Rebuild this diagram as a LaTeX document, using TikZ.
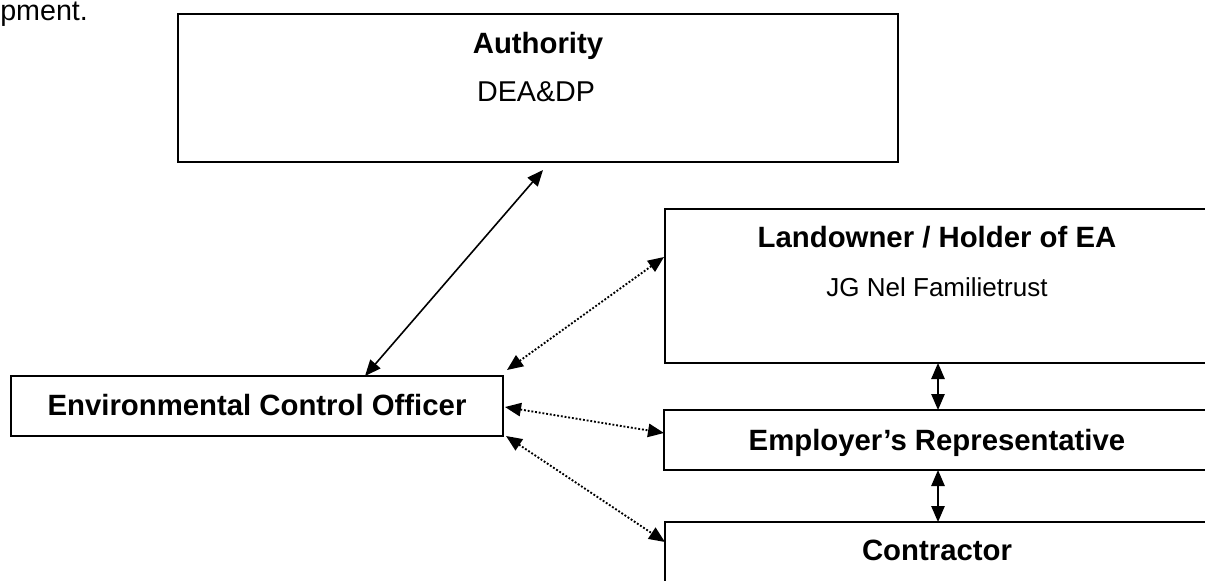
\documentclass[tikz,border=0pt]{standalone}
\usepackage{fontspec}
\setmainfont{Liberation Sans}
\usetikzlibrary{arrows.meta,calc}
\begin{document}
\begin{tikzpicture}[x=0.75pt,y=-0.75pt,
  box/.style={draw,line width=1.5pt,inner sep=0pt,outer sep=0pt},
  ttl/.style={font=\fontsize{22}{26}\selectfont\bfseries,anchor=base,inner sep=0pt},
  sub/.style={font=\fontsize{21.5}{26}\selectfont,anchor=base,inner sep=0pt},
  small/.style={font=\fontsize{19.5}{24}\selectfont,anchor=base,inner sep=0pt},
  link/.style={line width=1.2pt,{Triangle[length=12pt,width=10pt]}-{Triangle[length=12pt,width=10pt]}},
  dlink/.style={link,line width=1.4pt,dash pattern=on 1.4pt off 1.4pt}]
\clip (0,0) rectangle (1205,581);
\fill[white] (0,0) rectangle (1205,581);
% stray text
\node[sub,anchor=base west] (tail) at (0,21) {pment.};
% boxes
\node[box,minimum width=540pt,minimum height=111pt] (auth) at (538,88) {};
\node[box,minimum width=369pt,minimum height=45pt] (eco) at (257,406) {};
\node[box,minimum width=408.75pt,minimum height=115.5pt] (lo) at (937.5,286) {};
\node[box,minimum width=409.5pt,minimum height=45pt] (er) at (937,440) {};
\node[box,minimum width=408.75pt,minimum height=58.5pt] (con) at (937.5,561) {};
% texts
\node[ttl] (authT) at (538,54) {Authority};
\node[sub] (authS) at (536,102) {DEA\&DP};
\node[ttl] (ecoT) at (257,415) {Environmental Control Officer};
\node[ttl] (loT) at (937,247) {Landowner / Holder of EA};
\node[small] (loS) at (937,296) {JG Nel Familietrust};
\node[ttl] (erT) at (937,450) {Employer’s Representative};
\node[ttl] (conT) at (937,560) {Contractor};
% connector end points
\coordinate (pA) at (543,170);
\coordinate (pE) at (365,376);
\coordinate (v) at (938,0);
\coordinate (e1) at (507,370);
\coordinate (l1) at (664,257);
\coordinate (e2) at (505,407);
\coordinate (r2) at (664,433);
\coordinate (e3) at (506,436);
\coordinate (c3) at (665,542);
% connectors
\draw[link] (pE) -- (pA);
\draw[dlink] (e1) -- (l1);
\draw[dlink] (e2) -- (r2);
\draw[dlink] (e3) -- (c3);
\draw[link] (lo.south -| v) -- (er.north -| v);
\draw[link] (er.south -| v) -- (con.north -| v);
\end{tikzpicture}
\end{document}
